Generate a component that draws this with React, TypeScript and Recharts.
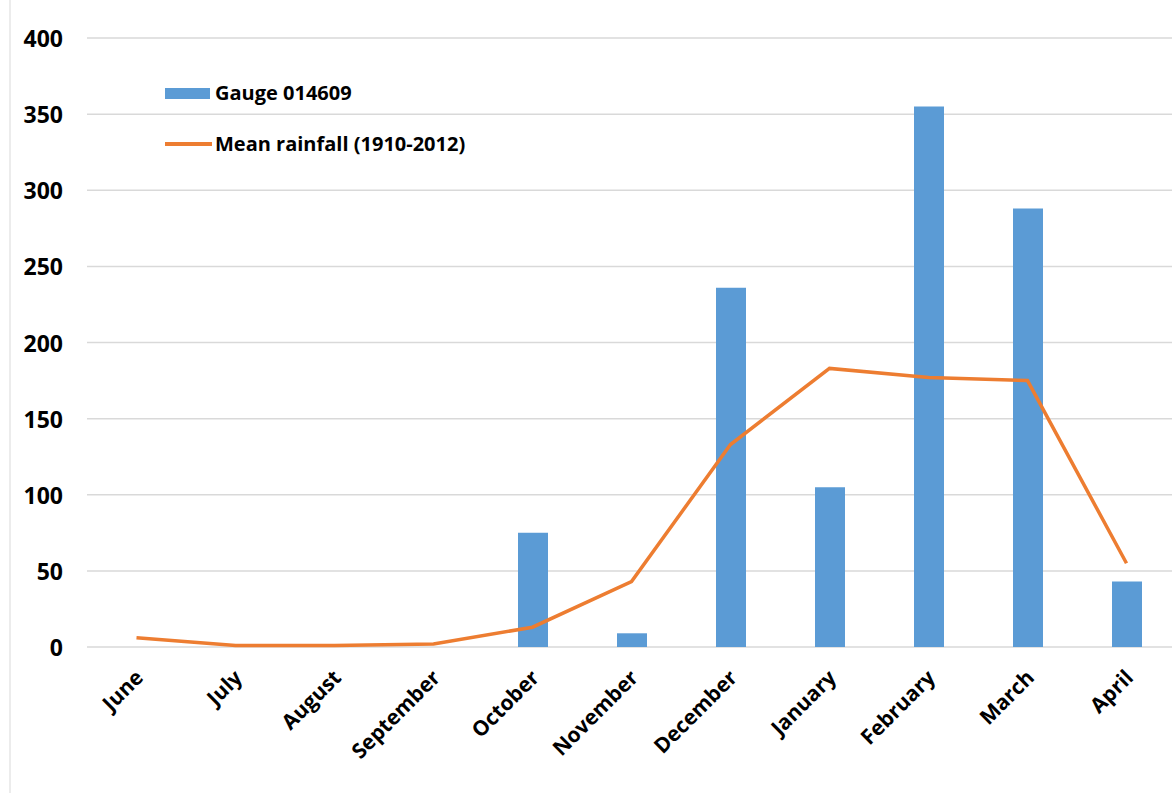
import React from "react";
import {
  ComposedChart,
  Bar,
  Line,
  XAxis,
  YAxis,
  CartesianGrid,
} from "recharts";

const months = [
  "June",
  "July",
  "August",
  "September",
  "October",
  "November",
  "December",
  "January",
  "February",
  "March",
  "April",
];
const gaugeRain = [null, null, null, null, 75, 9, 236, 105, 355, 288, 43];
const meanRain = [6, 1, 1, 2, 13, 43, 133, 183, 177, 175, 55];
const yTicks = [0, 50, 100, 150, 200, 250, 300, 350, 400];

const BAR_COLOR = "#5B9BD5";
const LINE_COLOR = "#ED7D31";
const FONT = "'Open Sans', Lato, sans-serif";

const data = months.map((m, i) => ({
  month: m,
  gauge: gaugeRain[i],
  mean: meanRain[i],
}));

const YTick = (props: any) => {
  const { y, payload } = props;
  return (
    <text
      x={63}
      y={y}
      textAnchor="end"
      dominantBaseline="central"
      fontFamily={FONT}
      fontWeight={700}
      fontSize={23}
      fill="#000"
    >
      {payload.value}
    </text>
  );
};

const XTick = (props: any) => {
  const { x, y, payload } = props;
  return (
    <g transform={`translate(${x + 8},${y + 24})`}>
      <text
        x={0}
        y={0}
        textAnchor="end"
        transform="rotate(-45)"
        fontFamily={FONT}
        fontWeight={700}
        fontSize={21}
        fill="#000"
      >
        {payload.value}
      </text>
    </g>
  );
};

const LegendBox = () => (
  <div
    style={{
      position: "absolute",
      left: 165,
      top: 80,
      fontFamily: FONT,
      fontWeight: 700,
      fontSize: 20,
      color: "#000",
      lineHeight: "24px",
    }}
  >
    <div style={{ display: "flex", alignItems: "center", height: 26 }}>
      <span
        style={{
          display: "inline-block",
          width: 45,
          height: 11,
          background: BAR_COLOR,
          marginRight: 5,
        }}
      />
      <span>Gauge 014609</span>
    </div>
    <div
      style={{ display: "flex", alignItems: "center", height: 26, marginTop: 25 }}
    >
      <span
        style={{
          display: "inline-block",
          width: 47,
          height: 4,
          background: LINE_COLOR,
          marginRight: 3,
        }}
      />
      <span>Mean rainfall (1910-2012)</span>
    </div>
  </div>
);

export default function App() {
  return (
    <div
      style={{
        position: "absolute",
        left: 0,
        top: 0,
        width: 1172,
        height: 793,
        overflow: "hidden",
        background: "#fff",
      }}
    >
      <div
        style={{
          position: "absolute",
          left: 9,
          top: 0,
          width: 2,
          height: 793,
          background: "#ececec",
        }}
      />
      <ComposedChart
        width={1180}
        height={793}
        data={data}
        margin={{ top: 38, right: 4, bottom: 0, left: 0 }}
      >
        <CartesianGrid
          horizontal={true}
          vertical={false}
          stroke="#d9d9d9"
          strokeWidth={1.5}
        />
        <XAxis
          dataKey="month"
          axisLine={false}
          tickLine={false}
          height={146}
          interval={0}
          tick={<XTick />}
        />
        <YAxis
          domain={[0, 400]}
          ticks={yTicks}
          axisLine={false}
          tickLine={false}
          width={87}
          tick={<YTick />}
          interval={0}
        />
        <Bar
          dataKey="gauge"
          name="Gauge 014609"
          fill={BAR_COLOR}
          barSize={30}
          isAnimationActive={false}
        />
        <Line
          dataKey="mean"
          name="Mean rainfall (1910-2012)"
          type="linear"
          stroke={LINE_COLOR}
          strokeWidth={3.5}
          dot={false}
          activeDot={false}
          isAnimationActive={false}
        />
      </ComposedChart>
      <LegendBox />
    </div>
  );
}
